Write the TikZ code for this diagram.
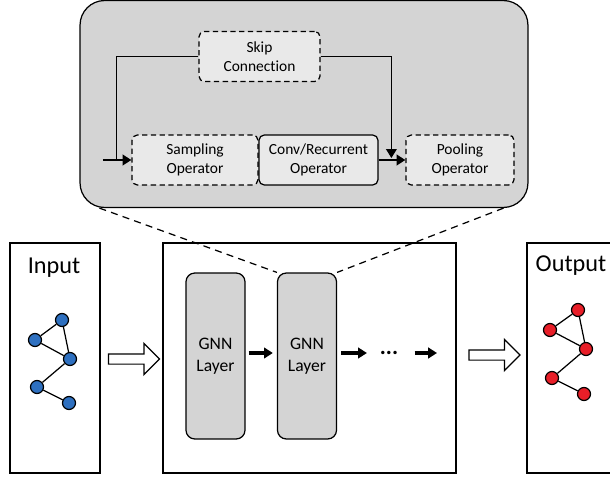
\documentclass[tikz,border=0pt]{standalone}
\usepackage{fontspec}
\setmainfont{Carlito}[Ligatures=NoCommon]
\usepackage{xcolor}
\usetikzlibrary{shapes.arrows, arrows.meta}
\definecolor{nodeblue}{RGB}{46,112,192}
\definecolor{nodered}{RGB}{232,30,40}
\definecolor{panelgray}{RGB}{212,212,212}
\definecolor{opgray}{RGB}{233,233,233}

\begin{document}
\begin{tikzpicture}[x=0.02cm, y=-0.02cm, line width=0.7pt,
    >={Triangle[length=5pt, width=6pt]},
    op/.style={draw, rounded corners=3pt, fill=opgray, minimum width=#1, minimum height=1cm,
        align=center, inner sep=1pt, font=\fontsize{8.8}{10.8}\selectfont},
    dashbox/.style={dash pattern=on 3pt off 2pt},
    layer/.style={draw, rounded corners=5pt, fill=panelgray, minimum width=1.18cm,
        minimum height=3.32cm, align=center, font=\fontsize{10}{12.3}\selectfont},
    vert/.style={draw, circle, fill=#1, minimum size=0.26cm, inner sep=0pt},
    fat/.style={draw, single arrow, single arrow head extend=0.21cm, inner xsep=0pt,
        inner ysep=0.09cm, minimum height=1.02cm},
    flow/.style={->, line width=1.8pt},
    big/.style={font=\fontsize{13.8}{16}\selectfont}]
    \clip (0,0) rectangle (610,477);

    % zoomed-in layer
    \node[draw, rounded corners=14pt, fill=panelgray, minimum width=8.96cm, minimum height=4.14cm] (panel) at (304,104) {};
    \node[op=2.42cm, dashbox] (skip) at (259.5,56.5) {Skip\\Connection};
    \node[op=2.52cm, dashbox] (samp) at (195,160) {Sampling\\Operator};
    \node[op=2.38cm] (conv) at (318.5,160) {Conv/Recurrent\\Operator};
    \node[op=2.16cm, dashbox] (pool) at (460,160) {Pooling\\Operator};
    \coordinate (feed) at (103,160);

    \draw[->, line width=1.4pt] (feed) -- (samp.west);
    \draw (skip.west) -| ([xshift=-0.3cm]samp.west);
    \draw[->] (skip.east) -| ([xshift=-0.28cm, yshift=0.04cm]pool.west);
    \draw[->, line width=1.4pt] (conv) -- (pool);

    % pipeline
    \node[draw, minimum width=1.8cm, minimum height=4.6cm] (inbox) at (55,358) {};
    \node[big] (intxt) at (54,268) {Input};
    \node[draw, minimum width=5.86cm, minimum height=4.6cm] (mid) at (309.5,358) {};
    \node[draw, minimum width=1.8cm, minimum height=4.6cm] (outbox) at (572,358) {};
    \node[big] (outtxt) at (571,266) {Output};

    \node[fat] (arr1) at (131.5,359) {};
    \node[fat] (arr2) at (492,355) {};

    \node[layer] (gnn1) at (215.5,356) {GNN\\Layer};
    \node[layer] (gnn2) at (307,356) {GNN\\Layer};
    \node[inner sep=0pt, font=\fontsize{13}{13}\selectfont\bfseries] (dots) at (389,353) {...};
    \coordinate (midend) at (437,353);

    \draw[flow, shorten <=1.7pt, shorten >=2.3pt] (gnn1.east |- 0,353) -- (gnn2.west |- 0,353);
    \draw[flow, shorten <=2.3pt, shorten >=7pt] (gnn2.east |- dots) -- (dots);
    \draw[flow, shorten <=9pt] (dots) -- (midend);

    \draw[dash pattern=on 4pt off 3pt] ([xshift=0.4cm]panel.south west) -- (gnn2.north west);
    \draw[dash pattern=on 4pt off 3pt] ([xshift=-0.5cm]panel.south east) -- (gnn2.north east);

    % graphs
    \node[vert=nodeblue] (a1) at (62,320) {};
    \node[vert=nodeblue] (a2) at (35,340) {};
    \node[vert=nodeblue] (a3) at (70,359) {};
    \node[vert=nodeblue] (a4) at (37,387) {};
    \node[vert=nodeblue] (a5) at (69,403) {};
    \node[vert=nodered] (b1) at (578,310) {};
    \node[vert=nodered] (b2) at (550,330) {};
    \node[vert=nodered] (b3) at (586,349) {};
    \node[vert=nodered] (b4) at (552,378) {};
    \node[vert=nodered] (b5) at (584,394) {};
    \foreach \g in {a,b} {
        \draw (\g1) -- (\g2);
        \draw (\g1) -- (\g3);
        \draw (\g2) -- (\g3);
        \draw (\g3) -- (\g4);
        \draw (\g4) -- (\g5);
    }
\end{tikzpicture}
\end{document}
